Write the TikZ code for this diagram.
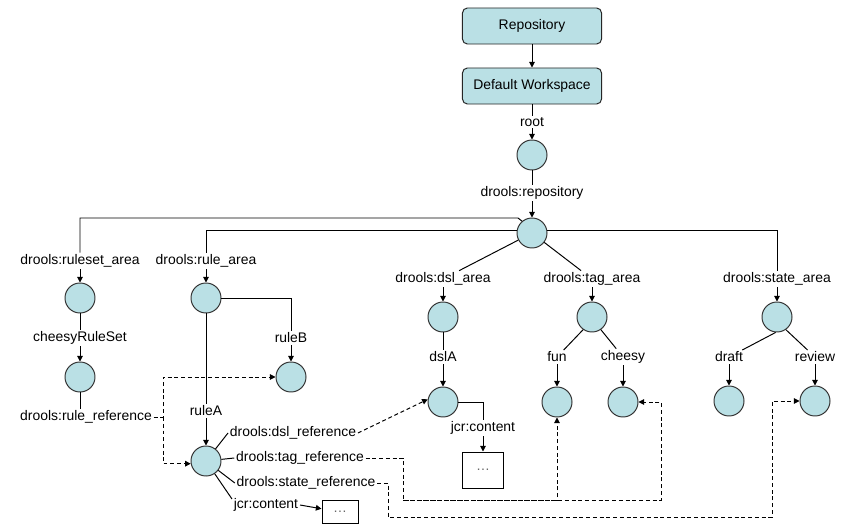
\documentclass[tikz,border=0pt]{standalone}
\usepackage{fontspec}
\setmainfont{Liberation Sans}
\usetikzlibrary{arrows.meta}
\definecolor{nodefill}{RGB}{186,224,229}
\tikzset{
	jcrnode/.style={circle,draw=black!80,fill=nodefill,minimum size=0.75cm,inner sep=0pt},
	topbox/.style={rectangle,rounded corners=3.5pt,draw=black!85,fill=nodefill,minimum width=3.475cm,minimum height=0.9cm},
	dotbox/.style={rectangle,draw=black,inner sep=0pt,text=black!60},
	lbl/.style={inner sep=1pt},
	arr/.style={-{Triangle[length=4pt,width=4pt]}},
	dref/.style={arr,dash pattern=on 2.8pt off 2pt},
}
\begin{document}
\begin{tikzpicture}[x=0.025cm,y=-0.025cm,line width=0.7pt,font=\fontsize{9.9}{12}\selectfont]%[pixel grid]
	\useasboundingbox (0,0) rectangle (864,532);
	\node[topbox] (repo) at (532,26) {Repository};
	\node[topbox] (ws) at (532,86) {Default Workspace};
	\node[jcrnode] (rootC) at (532,155) {};
	\node[jcrnode] (reposC) at (532,233) {};
	\node[jcrnode] (rulesetC) at (80,298) {};
	\node[jcrnode] (cheesyRSC) at (80,377) {};
	\node[jcrnode] (ruleareaC) at (206,298) {};
	\node[jcrnode] (ruleBC) at (291,377) {};
	\node[jcrnode] (ruleAC) at (206,461) {};
	\node[jcrnode] (dslareaC) at (443,317) {};
	\node[jcrnode] (dslAC) at (443,402) {};
	\node[jcrnode] (tagareaC) at (592,317) {};
	\node[jcrnode] (funC) at (557,402) {};
	\node[jcrnode] (cheesyC) at (623,402) {};
	\node[jcrnode] (stateareaC) at (777,317) {};
	\node[jcrnode] (draftC) at (729,401) {};
	\node[jcrnode] (reviewC) at (815,401) {};
	\node[dotbox,minimum width=0.9cm,minimum height=0.575cm] (jcrbox1) at (340,512) {…};
	\node[dotbox,minimum width=1.025cm,minimum height=0.9cm] (jcrbox2) at (483,470) {…};
	
	\node[lbl] (rootL) at (532,122) {root};
	\node[lbl] (reposL) at (532,193) {drools:repository};
	\node[lbl] (rulesetL) at (80,261) {drools:ruleset\_area};
	\node[lbl] (cheesyRSL) at (80,338) {cheesyRuleSet};
	\node[lbl] (rulerefL) at (86,417) {drools:rule\_reference};
	\node[lbl] (ruleareaL) at (206,261) {drools:rule\_area};
	\node[lbl] (ruleBL) at (291,338) {ruleB};
	\node[lbl] (ruleAL) at (206,411) {ruleA};
	\node[lbl] (dslareaL) at (443,279) {drools:dsl\_area};
	\node[lbl] (dslAL) at (443,357) {dslA};
	\node[lbl] (jcr2L) at (483,428) {jcr:content};
	\node[lbl] (tagareaL) at (592,279) {drools:tag\_area};
	\node[lbl] (funL) at (557,357) {fun};
	\node[lbl] (cheesyL) at (623,357) {cheesy};
	\node[lbl] (stateareaL) at (777,279) {drools:state\_area};
	\node[lbl] (draftL) at (729,357) {draft};
	\node[lbl] (reviewL) at (815,357) {review};
	\node[lbl] (dslrefL) at (293,433) {drools:dsl\_reference};
	\node[lbl] (tagrefL) at (300,458) {drools:tag\_reference};
	\node[lbl] (staterefL) at (306,483) {drools:state\_reference};
	\node[lbl] (jcr1L) at (266,505) {jcr:content};
	
	\coordinate (rsbend) at (518,218);
	\coordinate (rrbend) at (163,417);
	\coordinate (tagbend) at (403,500);
	\coordinate (tagturn) at (661,500);
	\coordinate (statebend) at (388,517);
	\coordinate (stateturn) at (772,517);
	
	\draw[arr] (repo) -- (ws);
	\draw (ws) -- (rootL);
	\draw[arr] (rootL) -- (rootC);
	\draw (rootC) -- (reposL);
	\draw[arr] (reposL) -- (reposC);
	
	\draw (reposC.130) -- (rsbend) -| (rulesetL);
	\draw[arr] (rulesetL) -- (rulesetC);
	\draw (rulesetC) -- (cheesyRSL);
	\draw[arr] (cheesyRSL) -- (cheesyRSC);
	\draw (cheesyRSC) -- (cheesyRSC |- rulerefL.north);
	\draw[dref] (rulerefL.east) -- (rrbend) |- (ruleBC);
	\draw[dref] (rrbend) |- (ruleAC.190);
	
	\draw (reposC.170) -| (ruleareaL);
	\draw[arr] (ruleareaL) -- (ruleareaC);
	\draw (ruleareaC) -| (ruleBL);
	\draw[arr] (ruleBL) -- (ruleBC);
	\draw (ruleareaC) -- (ruleAL);
	\draw[arr] (ruleAL) -- (ruleAC);
	\draw (ruleAC) -- (dslrefL.west);
	\draw (ruleAC) -- (tagrefL.west);
	\draw (ruleAC) -- (staterefL.west);
	\draw (ruleAC) -- (jcr1L.170);
	\draw[arr] (jcr1L.east) -- (jcrbox1);
	\draw[dref] (dslrefL.east) -- (dslAC.170);
	\draw[dref] (tagrefL.east) -| (tagbend) -| (funC);
	\draw[dref] (tagbend) -- (tagturn) |- (cheesyC);
	\draw[dref] (staterefL.east) -| (statebend) -- (stateturn) |- (reviewC);
	
	\draw (reposC) -- (dslareaL);
	\draw[arr] (dslareaL) -- (dslareaC);
	\draw (dslareaC) -- (dslAL);
	\draw[arr] (dslAL) -- (dslAC);
	\draw (dslAC) -| (jcr2L);
	\draw[arr] (jcr2L) -- (jcrbox2);
	
	\draw (reposC) -- (tagareaL);
	\draw[arr] (tagareaL) -- (tagareaC);
	\draw (tagareaC.235) -- (funL);
	\draw[arr] (funL) -- (funC);
	\draw (tagareaC.305) -- (cheesyL);
	\draw[arr] (cheesyL) -- (cheesyC);
	
	\draw (reposC.10) -| (stateareaL);
	\draw[arr] (stateareaL) -- (stateareaC);
	\draw (stateareaC.265) -- (draftL);
	\draw[arr] (draftL) -- (draftC);
	\draw (stateareaC.305) -- (reviewL);
	\draw[arr] (reviewL) -- (reviewC);
\end{tikzpicture}
\end{document}
